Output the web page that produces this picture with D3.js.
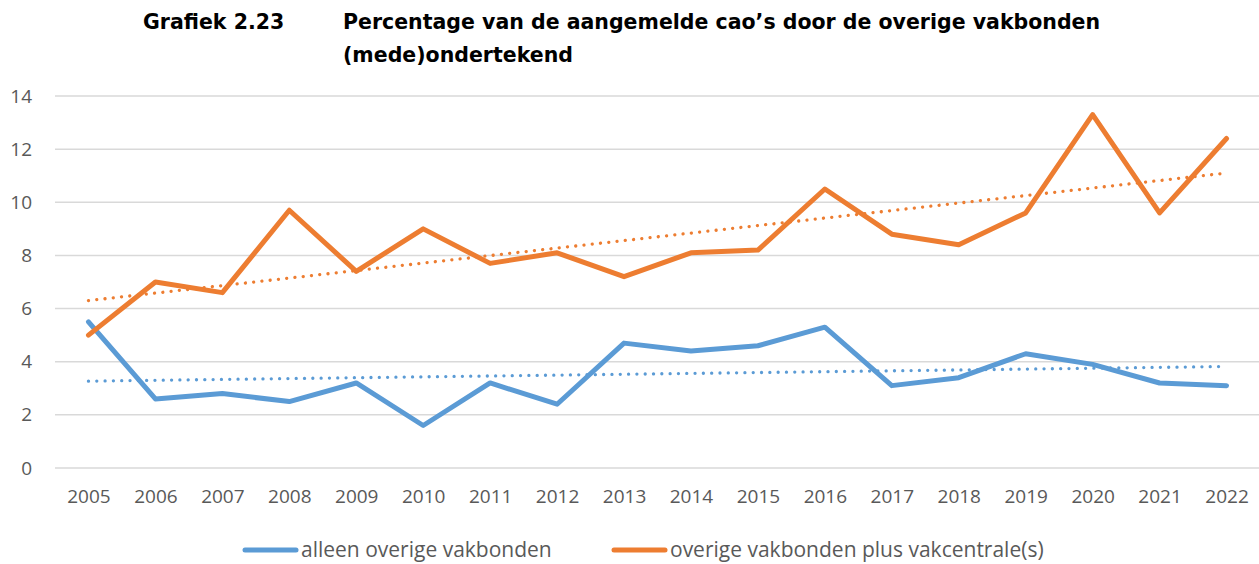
<!DOCTYPE html>
<html>
<head>
<meta charset="utf-8">
<script src="https://cdn.jsdelivr.net/npm/d3@7"></script>
<style>
  body { margin: 0; background: #fff; }
  svg { display: block; }
</style>
</head>
<body>
<svg id="chart" width="1259" height="564"></svg>
<script>
// data
var years = ["2005","2006","2007","2008","2009","2010","2011","2012","2013",
             "2014","2015","2016","2017","2018","2019","2020","2021","2022"];
var alleen = [5.5, 2.6, 2.8, 2.5, 3.2, 1.6, 3.2, 2.4, 4.7, 4.4, 4.6, 5.3, 3.1, 3.4, 4.3, 3.9, 3.2, 3.1];
var plus   = [5.0, 7.0, 6.6, 9.7, 7.4, 9.0, 7.7, 8.1, 7.2, 8.1, 8.2, 10.5, 8.8, 8.4, 9.6, 13.3, 9.6, 12.4];
var yTicks = [0, 2, 4, 6, 8, 10, 12, 14];
var seriesNames = ["alleen overige vakbonden", "overige vakbonden plus vakcentrale(s)"];
var colors = ["#5B9BD5", "#ED7D31"];

var svg = d3.select("#chart"),
  font = "'Open Sans', 'Noto Sans', sans-serif",
  textColor = "#595959";

var x = d3.scalePoint().domain(years).range([55, 1260]).padding(0.5);
var y = d3.scaleLinear().domain([0, 14]).range([468, 96]);

// title
var title = svg.append("g")
  .style("font-family", "'DejaVu Sans', Verdana, sans-serif")
  .style("font-weight", "bold")
  .style("font-size", "20.5px")
  .attr("fill", "#000");
title.append("text").attr("x", 143).attr("y", 29).text("Grafiek 2.23");
title.append("text").attr("x", 343).attr("y", 29).text("Percentage van de aangemelde cao\u2019s door de overige vakbonden");
title.append("text").attr("x", 343).attr("y", 62).text("(mede)ondertekend");

// gridlines
svg.append("g")
  .selectAll("line")
  .data(yTicks)
  .enter().append("line")
  .attr("x1", 55)
  .attr("x2", 1259)
  .attr("y1", function(d) { return y(d); })
  .attr("y2", function(d) { return y(d); })
  .attr("stroke", "#D9D9D9")
  .attr("stroke-width", 1.5);

// y axis labels
svg.append("g")
  .attr("transform", "translate(32,0)")
  .call(d3.axisLeft(y).tickValues(yTicks).tickSize(0).tickPadding(0))
  .call(function(g) { g.select(".domain").remove(); })
  .selectAll("text")
  .attr("fill", textColor)
  .style("font-family", font)
  .style("font-size", "19px");

// x axis labels
svg.append("g")
  .attr("transform", "translate(0,489)")
  .call(d3.axisBottom(x).tickSize(0).tickPadding(0))
  .call(function(g) { g.select(".domain").remove(); })
  .selectAll("text")
  .attr("fill", textColor)
  .style("font-family", font)
  .style("font-size", "19px");

// linear trend (least squares) for each series
function trend(vals) {
  var n = vals.length,
    mx = d3.mean(vals, function(d, i) { return i; }),
    my = d3.mean(vals),
    sxy = d3.sum(vals, function(d, i) { return (i - mx) * (d - my); }),
    sxx = d3.sum(vals, function(d, i) { return (i - mx) * (i - mx); }),
    b = sxy / sxx, a = my - b * mx;
  return [[0, a], [n - 1, a + b * (n - 1)]];
}

var line = d3.line()
  .x(function(d, i) { return x(years[i]); })
  .y(function(d) { return y(d); });

var trendLine = d3.line()
  .x(function(d) { return x(years[d[0]]); })
  .y(function(d) { return y(d[1]); });

[alleen, plus].forEach(function(vals, k) {
  svg.append("path")
    .datum(trend(vals))
    .attr("d", trendLine)
    .attr("fill", "none")
    .attr("stroke", colors[k])
    .attr("stroke-width", 3.3)
    .attr("stroke-linecap", "round")
    .attr("stroke-dasharray", "0.01 8.3");
});

[alleen, plus].forEach(function(vals, k) {
  svg.append("path")
    .datum(vals)
    .attr("d", line)
    .attr("fill", "none")
    .attr("stroke", colors[k])
    .attr("stroke-width", 5)
    .attr("stroke-linejoin", "round")
    .attr("stroke-linecap", "round");
});

// legend
var legendX = [243, 612];
var legend = svg.selectAll(".legend")
  .data(seriesNames)
  .enter().append("g")
  .attr("class", "legend")
  .attr("transform", function(d, i) { return "translate(" + legendX[i] + ",550)"; });

legend.append("line")
  .attr("x1", 2).attr("x2", 53)
  .attr("y1", 0).attr("y2", 0)
  .attr("stroke", function(d, i) { return colors[i]; })
  .attr("stroke-width", 5)
  .attr("stroke-linecap", "round");

legend.append("text")
  .attr("x", 58)
  .attr("y", 0)
  .attr("dy", "0.35em")
  .attr("fill", textColor)
  .style("font-family", font)
  .style("font-size", "21px")
  .text(function(d) { return d; });
</script>
</body>
</html>
